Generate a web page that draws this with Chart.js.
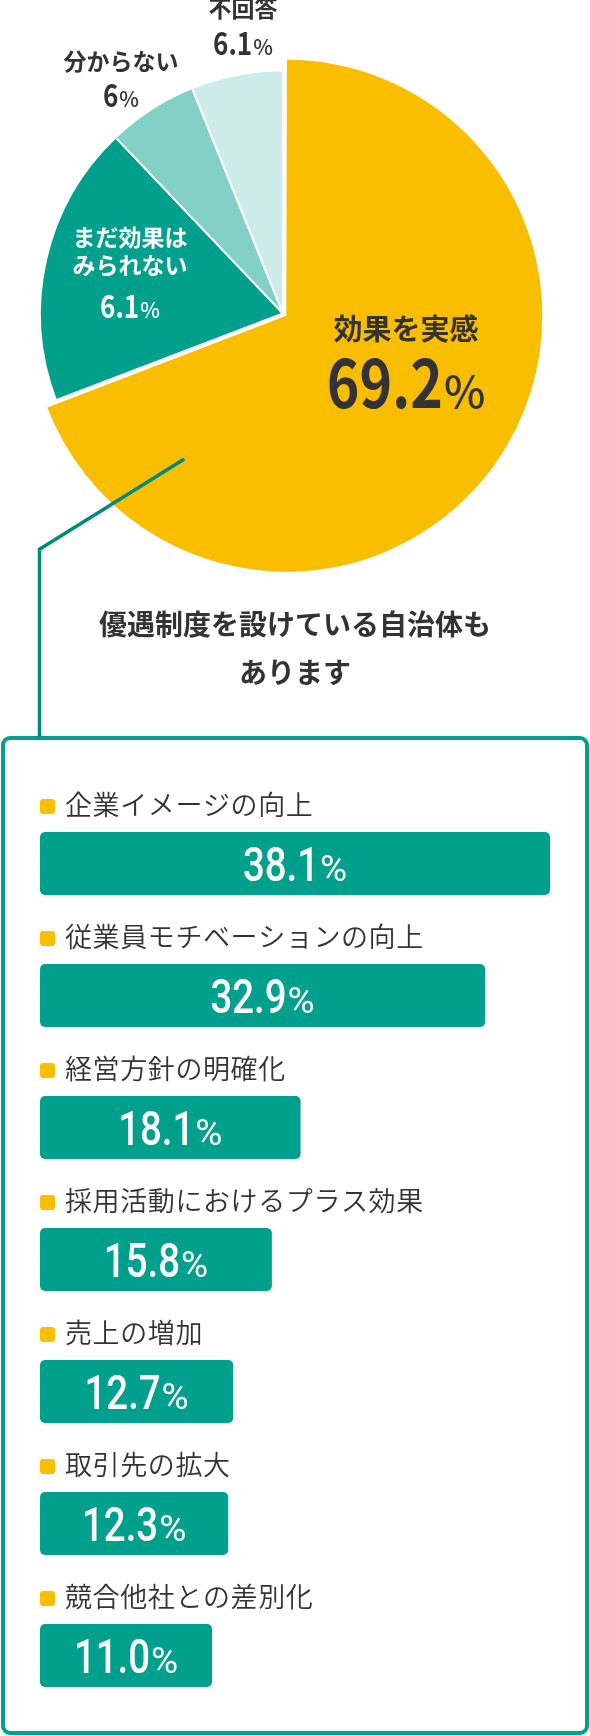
<!DOCTYPE html>
<html lang="ja">
<head>
<meta charset="utf-8">
<script src="https://cdn.jsdelivr.net/npm/chart.js@4.4.1/dist/chart.umd.min.js"></script>
<style>
  html, body { margin: 0; padding: 0; background: #fff; }
  body { width: 590px; height: 1736px; position: relative; overflow: hidden;
         font-family: "Noto Sans CJK JP", "Noto Sans", sans-serif; color: #333; }
  canvas { position: absolute; left: 0; }
  #pieBig, #pieSmall { top: 0; }
  #barChart { top: 736px; }
  .box { position: absolute; left: 1px; top: 736px; width: 588px; height: 999px;
         box-sizing: border-box; border: 4px solid #00a08c; border-radius: 9px; }
  .note { position: absolute; left: 0; top: 599px; width: 590px; text-align: center;
          font-weight: 700; font-size: 28px; line-height: 48px; }
  svg.leader { position: absolute; left: 0; top: 0; }
</style>
</head>
<body>
<div class="box"></div>
<canvas id="pieBig" width="566" height="740"></canvas>
<canvas id="pieSmall" width="566" height="740"></canvas>
<svg class="leader" width="590" height="740">
  <polyline points="184.3,459 39.5,549.3 39.5,738" fill="none" stroke="#008a78" stroke-width="3.5"/>
</svg>
<div class="note">優遇制度を設けている自治体も<br>あります</div>
<canvas id="barChart" width="590" height="1000"></canvas>

<script>
// --- data ---
const pieLabels = ['効果を実感', 'まだ効果はみられない', '分からない', '不回答'];
// slice sizes as drawn (2nd slice is visibly ~18.7 even though it is printed as 6.1%)
const pieValues = [69.2, 18.7, 6.0, 6.1];
const piePctText = ['69.2%', '6.1%', '6%', '6.1%'];

const barLabels = [
  '企業イメージの向上',
  '従業員モチベーションの向上',
  '経営方針の明確化',
  '採用活動におけるプラス効果',
  '売上の増加',
  '取引先の拡大',
  '競合他社との差別化'
];
const barValues = [38.1, 32.9, 18.1, 15.8, 12.7, 12.3, 11.0];

// --- styles ---
const YELLOW = '#f9be00';
const TEAL = '#00a08c';
const MINT = '#82d0c6';
const PALE = '#cdebe8';
const INK = '#333333';
const FONT = '"Noto Sans CJK JP", "Noto Sans", sans-serif';
const X_MIN = -2.79; // bars start a little left of zero

// text spots for the pie (name lines, then percent baseline)
const pieTextSpots = [
  { x: 406, lines: [329], size: 29, pctBase: 408, num: 66, pct: 44, color: INK },
  { x: 130, lines: [237, 265.5], size: 23, pctBase: 318, num: 31, pct: 21, color: '#fff' },
  { x: 121, lines: [61.7], size: 23, pctBase: 106.5, num: 31, pct: 21, color: INK },
  { x: 243, lines: [8], size: 23, pctBase: 55, num: 31, pct: 21, color: INK }
];
const pieNameLines = [['効果を実感'], ['まだ効果は', 'みられない'], ['分からない'], ['不回答']];

// draw "12.3%" with a smaller % sign, centred on cx; digits squeezed by sx
function drawPct(ctx, text, cx, base, numFont, pctFont, sx) {
  const num = text.replace('%', '');
  ctx.save();
  ctx.textBaseline = 'alphabetic';
  ctx.textAlign = 'left';
  ctx.font = numFont;
  const w1 = ctx.measureText(num).width * sx;
  ctx.font = pctFont;
  const w2 = ctx.measureText('%').width;
  const start = cx - (w1 + w2 + 1) / 2;
  ctx.save();
  ctx.translate(start, base);
  ctx.scale(sx, 1);
  ctx.font = numFont;
  ctx.fillText(num, 0, 0);
  ctx.restore();
  ctx.font = pctFont;
  ctx.fillText('%', start + w1 + 1, base);
  ctx.restore();
}

const pieText = {
  id: 'pieText',
  afterDraw(chart) {
    const ctx = chart.ctx;
    pieTextSpots.forEach((s, i) => {
      ctx.save();
      ctx.fillStyle = s.color;
      ctx.textAlign = 'center';
      ctx.textBaseline = 'middle';
      ctx.font = '700 ' + s.size + 'px ' + FONT;
      pieNameLines[i].forEach((t, k) => ctx.fillText(t, s.x, s.lines[k]));
      drawPct(ctx, piePctText[i], s.x, s.pctBase,
        '700 ' + s.num + 'px ' + FONT, '500 ' + s.pct + 'px ' + FONT, 0.84);
      ctx.restore();
    });
  }
};

function pieConfig(colors, borders, offsets, radius, extra) {
  return {
    type: 'pie',
    data: {
      labels: pieLabels,
      datasets: [{
        data: pieValues,
        backgroundColor: colors,
        borderColor: '#fff',
        borderWidth: borders,
        offset: offsets
      }]
    },
    options: {
      responsive: false,
      animation: false,
      events: [],
      radius: radius,
      layout: { padding: { top: 0, left: 0, right: 0, bottom: 113 } },
      plugins: { legend: { display: false }, tooltip: { enabled: false } }
    },
    plugins: extra
  };
}

// yellow slice: pulled out and slightly larger
new Chart(document.getElementById('pieBig'),
  pieConfig([YELLOW, 'rgba(0,0,0,0)', 'rgba(0,0,0,0)', 'rgba(0,0,0,0)'],
    [0, 0, 0, 0], [16, 0, 0, 0], 252, []));

// the remaining slices
new Chart(document.getElementById('pieSmall'),
  pieConfig(['rgba(0,0,0,0)', TEAL, MINT, PALE],
    [0, 2, 2, 2], [0, 0, 0, 0], 243, [pieText]));

const barText = {
  id: 'barText',
  afterDatasetsDraw(chart) {
    const ctx = chart.ctx;
    const meta = chart.getDatasetMeta(0);
    meta.data.forEach((bar, i) => {
      const top = bar.y - bar.height / 2;
      const left = bar.base;
      // bullet
      ctx.save();
      ctx.fillStyle = YELLOW;
      ctx.beginPath();
      ctx.roundRect(left, top - 33, 15, 15, 3);
      ctx.fill();
      // category name
      ctx.fillStyle = INK;
      ctx.font = '350 27px ' + FONT;
      ctx.letterSpacing = '0.6px';
      ctx.textAlign = 'left';
      ctx.textBaseline = 'middle';
      ctx.fillText(barLabels[i], left + 25, top - 27);
      ctx.letterSpacing = '0px';
      // value
      ctx.fillStyle = '#fff';
      drawPct(ctx, barValues[i].toFixed(1) + '%', (left + bar.x) / 2, bar.y + 17,
        '500 48px Roboto, ' + FONT, '400 37px Roboto, ' + FONT, 0.8);
      ctx.restore();
    });
  }
};

new Chart(document.getElementById('barChart'), {
  type: 'bar',
  data: {
    labels: barLabels,
    datasets: [{
      data: barValues,
      base: X_MIN,
      backgroundColor: TEAL,
      borderRadius: 5,
      borderSkipped: false,
      categoryPercentage: 1,
      barPercentage: 0.477
    }]
  },
  options: {
    indexAxis: 'y',
    responsive: false,
    animation: false,
    events: [],
    layout: { padding: { left: 40, right: 40, top: 61.5, bottom: 14.5 } },
    scales: {
      x: { display: false, min: X_MIN, max: 38.1 },
      y: { display: false }
    },
    plugins: { legend: { display: false }, tooltip: { enabled: false } }
  },
  plugins: [barText]
});
</script>
</body>
</html>
